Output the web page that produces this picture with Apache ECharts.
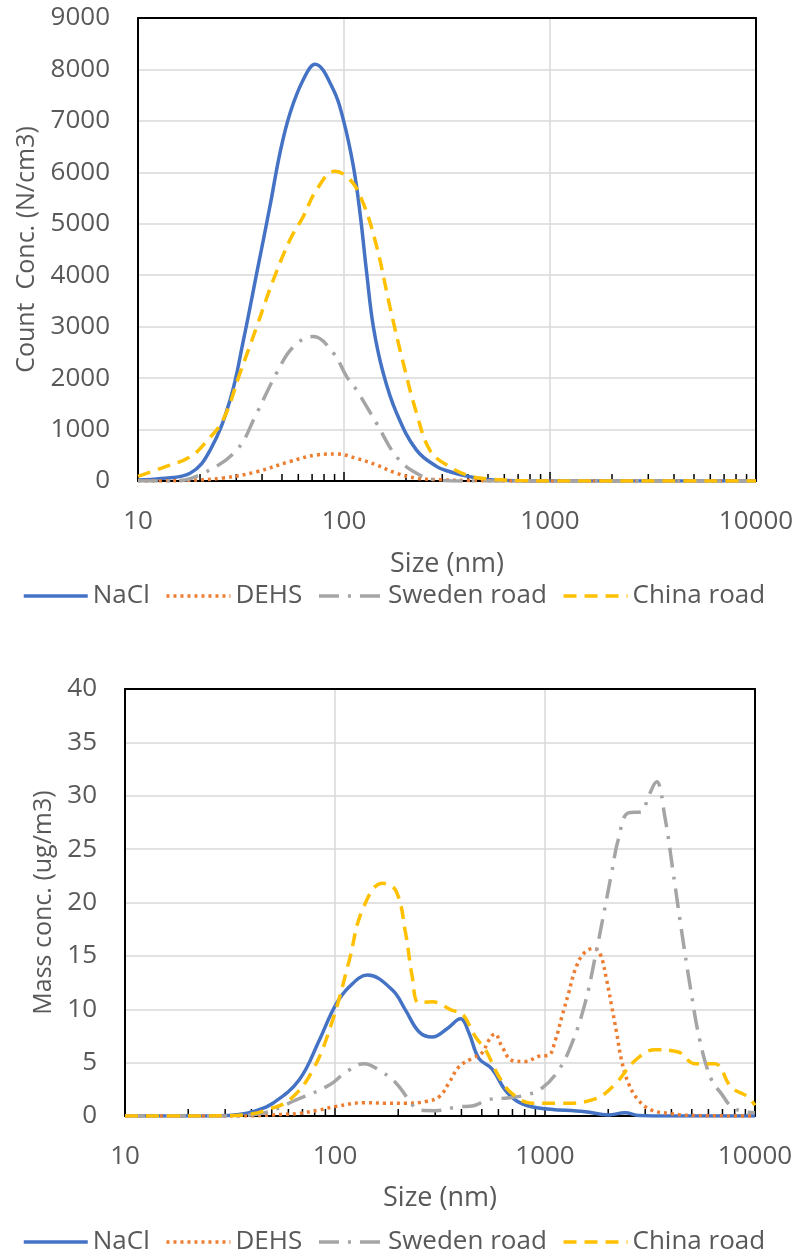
<!DOCTYPE html>
<html>
<head>
<meta charset="utf-8">
<script src="https://cdn.jsdelivr.net/npm/echarts@6/dist/echarts.min.js"></script>
<style>
html,body{margin:0;padding:0;background:#fff;}
#chart{width:798px;height:1257px;}
</style>
</head>
<body>
<div id="chart"></div>
<script>
// ---------- Data ----------
const seriesNames = ['NaCl', 'DEHS', 'Sweden road', 'China road'];
const xTickLabels = [10, 100, 1000, 10000];
const minorTickValues = [20,30,40,50,60,70,80,90,200,300,400,500,600,700,800,900,2000,3000,4000,5000,6000,7000,8000,9000];

// Count concentration (N/cm3)
const countNaClSize  = [10, 13, 17.9, 22.4, 28, 32.5, 37.7, 43.7, 48.9, 54.7, 63.4, 72.3, 88.7, 99.3, 111, 119.6, 128.9, 138.8, 155, 180, 225, 282, 327, 400, 500, 600, 1000, 3000, 10000];
const countNaClValue = [20, 50, 150, 600, 1580, 2740, 4040, 5340, 6380, 7150, 7800, 8100, 7610, 7020, 6120, 5210, 4040, 3000, 2100, 1320, 600, 280, 180, 90, 30, 10, 0, 0, 0];

const countDEHSSize  = [10, 17, 26, 37.7, 54.7, 73.6, 92, 115, 144, 180, 225, 290, 400, 600, 1000, 10000];
const countDEHSValue = [0, 10, 60, 180, 380, 505, 525, 440, 310, 150, 55, 25, 10, 3, 0, 0];

const countSwedenSize  = [10, 15, 20.7, 30.1, 37.7, 47.1, 56.8, 71, 88.7, 103, 115, 144, 180, 225, 282, 400, 10000];
const countSwedenValue = [0, 0, 150, 600, 1320, 2100, 2610, 2810, 2490, 2030, 1770, 1120, 470, 150, 20, 0, 0];

const countChinaSize  = [10, 13, 17.9, 21.5, 25.9, 31.3, 37.7, 45.4, 54.7, 63.4, 73.6, 90.3, 107, 124, 144, 167, 194, 225, 261, 315, 400, 500, 700, 1000, 10000];
const countChinaValue = [90, 250, 470, 770, 1190, 2100, 3000, 3910, 4690, 5140, 5660, 6020, 5860, 5400, 4560, 3390, 2290, 1320, 600, 310, 110, 40, 10, 0, 0];

// Mass concentration (ug/m3)
const massNaClSize  = [10, 20, 28, 35, 40.6, 50.6, 67.6, 84.2, 100, 117, 143, 187.6, 217, 251, 290, 343, 396, 434, 484, 560, 648, 750, 933, 1553, 2004, 2405, 2800, 4000, 10000];
const massNaClValue = [0, 0, 0.02, 0.15, 0.4, 1.2, 3.4, 7.1, 10.3, 12.1, 13.2, 11.8, 9.9, 7.9, 7.4, 8.2, 9.1, 7.8, 5.4, 4.4, 2.4, 1.3, 0.75, 0.4, 0.1, 0.3, 0.05, 0, 0];

const massDEHSSize  = [10, 40, 50, 67.6, 84, 101, 137.7, 174.5, 217, 270, 313, 349, 389, 450, 501, 540, 577, 624, 697, 806, 933, 1040, 1120, 1203, 1295, 1392, 1525, 1702, 1830, 1967, 2077, 2193, 2316, 2493, 2780, 3212, 3860, 5000, 10000];
const massDEHSValue = [0, 0, 0.1, 0.25, 0.56, 0.9, 1.25, 1.2, 1.2, 1.35, 1.8, 3.1, 4.6, 5.4, 5.9, 7.1, 7.7, 6.5, 5.2, 5.1, 5.6, 5.7, 7.1, 9.3, 11.5, 13.7, 15.2, 15.7, 15.2, 12.7, 10.3, 7.8, 5.2, 3.1, 1.5, 0.56, 0.25, 0.05, 0];

const massSwedenSize  = [10, 30, 45, 65.3, 94, 112.7, 137.7, 162, 195, 225, 251, 301, 389, 450, 540, 624, 806, 966, 1161, 1343, 1553, 1734, 1933, 2077, 2233, 2493, 2884, 3102, 3398, 3724, 4077, 4467, 4898, 5459, 6200, 6914, 7710, 8913, 10000];
const massSwedenValue = [0, 0, 0.25, 1.5, 2.9, 4.1, 4.9, 4.3, 3.1, 1.5, 0.56, 0.5, 0.87, 0.93, 1.55, 1.65, 1.95, 2.6, 4.3, 6.8, 10.6, 14.9, 19.6, 22.8, 25.9, 28.4, 28.5, 29.9, 31.3, 28.0, 22.8, 17.4, 12.3, 7.1, 3.4, 2.1, 0.9, 0.4, 0.3];

const massChinaSize  = [10, 20, 30, 40, 47, 60.7, 78.4, 97.5, 117, 135, 168, 195, 217, 233, 251, 290, 361, 403, 467, 521, 603, 697, 867, 1203, 1734, 2159, 2685, 3338, 4305, 5166, 6427, 7710, 9250, 10000];
const massChinaValue = [0, 0, 0.02, 0.2, 0.56, 1.5, 4.3, 9.0, 14.6, 19.3, 21.8, 21.1, 17.1, 13.1, 10.6, 10.7, 9.9, 9.6, 7.4, 6.2, 3.7, 2.1, 1.2, 1.2, 1.6, 3.0, 5.2, 6.2, 6.0, 4.9, 4.9, 2.7, 1.8, 1.0];

// ---------- Styles ----------
const FONT = "'Open Sans', 'Liberation Sans', sans-serif";
const TXT = '#595959';
const styles = {
  'NaCl':        { color: '#4472C4', type: 'solid' },
  'DEHS':        { color: '#ED7D31', type: [3, 4] },
  'Sweden road': { color: '#A5A5A5', type: [20, 9, 3, 9] },
  'China road':  { color: '#FFC000', type: [13, 8] }
};

function zip(xs, ys) { return xs.map((x, i) => [x, ys[i]]); }

function lineSeries(name, xs, ys, idx) {
  const s = styles[name];
  return {
    type: 'line', name: name, xAxisIndex: idx, yAxisIndex: idx,
    data: zip(xs, ys), smooth: 0.4, showSymbol: false, symbol: 'none',
    lineStyle: { color: s.color, width: 3.5, type: s.type, cap: 'butt' },
    itemStyle: { color: s.color },
    emphasis: { disabled: true }, animation: false
  };
}

function minorTickSeries(idx) {
  return {
    type: 'custom', xAxisIndex: idx, yAxisIndex: idx, silent: true, animation: false, z: 1,
    data: minorTickValues.map(v => [v, 0]),
    encode: { x: 0, y: 1 },
    renderItem: function (params, api) {
      const p = api.coord([api.value(0), 0]);
      return { type: 'line', shape: { x1: p[0], y1: p[1], x2: p[0], y2: p[1] - 7 },
               style: { stroke: '#000', lineWidth: 1.5 } };
    }
  };
}

function logX(gridIndex, nameGap) {
  return {
    type: 'log', logBase: 10, gridIndex: gridIndex, min: 10, max: 10000,
    name: 'Size (nm)', nameLocation: 'middle', nameGap: nameGap,
    nameTextStyle: { color: TXT, fontSize: 27, fontFamily: FONT },
    axisLine: { show: true, onZero: false, lineStyle: { color: '#000', width: 2 } },
    axisTick: { show: true, inside: true, length: 9, lineStyle: { color: '#000', width: 1.5 } },
    minorTick: { show: false },
    axisLabel: { color: TXT, fontSize: 26, fontFamily: FONT, margin: 28,
                 formatter: v => String(xTickLabels.find(t => Math.abs(t - v) / t < 1e-6) || Math.round(v)) },
    splitLine: { show: true, lineStyle: { color: '#D9D9D9', width: 1.5 } }
  };
}

function valY(gridIndex, max, interval, name, nameGap) {
  return {
    type: 'value', gridIndex: gridIndex, min: 0, max: max, interval: interval,
    name: name, nameLocation: 'middle', nameGap: nameGap,
    nameTextStyle: { color: TXT, fontSize: 25, fontFamily: FONT },
    axisLine: { show: true, lineStyle: { color: '#000', width: 2 } },
    axisTick: { show: false },
    axisLabel: { color: TXT, fontSize: 26, fontFamily: FONT, margin: 28, formatter: v => String(v) },
    splitLine: { show: true, lineStyle: { color: '#D9D9D9', width: 1.5 } }
  };
}

function borderX(gridIndex) {
  return { type: 'value', gridIndex: gridIndex, position: 'top', min: 0, max: 1,
           axisLine: { show: true, onZero: false, lineStyle: { color: '#000', width: 2 } },
           axisTick: { show: false }, axisLabel: { show: false }, splitLine: { show: false } };
}
function borderY(gridIndex) {
  return { type: 'value', gridIndex: gridIndex, position: 'right', min: 0, max: 1,
           axisLine: { show: true, onZero: false, lineStyle: { color: '#000', width: 2 } },
           axisTick: { show: false }, axisLabel: { show: false }, splitLine: { show: false } };
}

function legend(top) {
  return {
    top: top, left: 17, data: seriesNames, itemWidth: 64, itemHeight: 14, itemGap: 15,
    itemStyle: { opacity: 0 }, lineStyle: { width: 3.5 },
    textStyle: { color: TXT, fontSize: 26, fontFamily: FONT }, selectedMode: false
  };
}

const chart = echarts.init(document.getElementById('chart'), null, { renderer: 'canvas' });
chart.setOption({
  animation: false,
  backgroundColor: '#fff',
  grid: [
    { left: 138, top: 18, width: 618, height: 463, containLabel: false },
    { left: 125, top: 689, width: 630, height: 427, containLabel: false }
  ],
  legend: [legend(578), legend(1224)],
  xAxis: [logX(0, 70), logX(1, 69), borderX(0), borderX(1)],
  yAxis: [valY(0, 9000, 1000, 'Count  Conc. (N/cm3)', 99), valY(1, 40, 5, 'Mass conc. (ug/m3)', 65),
          borderY(0), borderY(1)],
  series: [
    minorTickSeries(0), minorTickSeries(1),
    lineSeries('NaCl', countNaClSize, countNaClValue, 0),
    lineSeries('DEHS', countDEHSSize, countDEHSValue, 0),
    lineSeries('Sweden road', countSwedenSize, countSwedenValue, 0),
    lineSeries('China road', countChinaSize, countChinaValue, 0),
    lineSeries('NaCl', massNaClSize, massNaClValue, 1),
    lineSeries('DEHS', massDEHSSize, massDEHSValue, 1),
    lineSeries('Sweden road', massSwedenSize, massSwedenValue, 1),
    lineSeries('China road', massChinaSize, massChinaValue, 1)
  ]
});
</script>
</body>
</html>
